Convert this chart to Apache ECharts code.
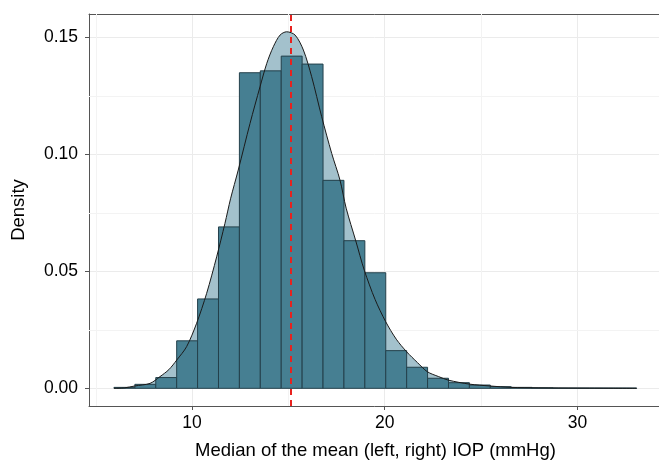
<!DOCTYPE html>
<html>
<head>
<meta charset="utf-8">
<script src="https://cdn.jsdelivr.net/npm/echarts@6.0.0/dist/echarts.min.js"></script>
<style>
  html, body { margin: 0; padding: 0; background: #ffffff; }
  #root { width: 659px; height: 460px; }
</style>
</head>
<body>
<div id="root"></div>
<script>
// histogram: 25 bins starting at 5.95, width 1.085
const binStart = 5.95;
const binWidth = 1.085;
const binDensity = [
  0.0004, 0.0017, 0.0046, 0.0203, 0.0382, 0.069, 0.1349, 0.1357, 0.142, 0.1386,
  0.0889, 0.0631, 0.0494, 0.0161, 0.009, 0.0043, 0.0024, 0.0014, 0.0007, 0.0004,
  0.0002, 0.0001, 0.0001, 0.0001, 0.0001
];

// kernel density curve
const curveX = [
  5.95, 6.5, 7.03, 7.82, 8.34, 8.8, 9.21, 9.72, 10.24, 10.76, 11.28, 11.71, 12.0,
  12.4, 13.01, 13.53, 13.88, 14.22, 14.57, 14.91, 15.35, 15.78, 16.21, 16.73,
  17.25, 17.68, 18.0, 18.5, 18.94, 19.5, 20.05, 20.6, 21.14, 21.7, 22.21, 22.8,
  23.3, 24.39, 25.46, 26.55, 28, 30, 33.07
];
const curveY = [
  0, 0.0002, 0.001, 0.0021, 0.005, 0.008, 0.0121, 0.0178, 0.0278, 0.0406, 0.0562,
  0.0705, 0.081, 0.0933, 0.1132, 0.1289, 0.1389, 0.146, 0.151, 0.1524, 0.151,
  0.1446, 0.1332, 0.1161, 0.1004, 0.089, 0.077, 0.063, 0.0505, 0.038, 0.0285,
  0.021, 0.0156, 0.011, 0.0071, 0.005, 0.0035, 0.0018, 0.001, 0.0004, 0.0002,
  0.0001, 0
];

const medianIOP = 15.13;

const xTicks = [10, 20, 30];
const xMinor = [5, 15, 25];
const yTicks = [0, 0.05, 0.1, 0.15];
const yMinor = [0.025, 0.075, 0.125];

const bars = binDensity.map((d, i) => [binStart + i * binWidth, binStart + (i + 1) * binWidth, d]);
const curve = curveX.map((x, i) => [x, curveY[i]]);
// [value, 0 = vertical line / 1 = horizontal line]
const minorLines = xMinor.map((v) => [v, 0]).concat(yMinor.map((v) => [v, 1]));

const chart = echarts.init(document.getElementById("root"));

const font = "'Liberation Sans', Arial, sans-serif";
const frame = "#555555";

const option = {
  backgroundColor: "#ffffff",
  animation: false,
  grid: {
    left: 89,
    top: 14,
    width: 573,
    height: 392,
    outerBoundsMode: "none",
    containLabel: false,
    show: false
  },
  xAxis: [
    {
      type: "value",
      min: 4.655,
      max: 34.39,
      name: "Median of the mean (left, right) IOP (mmHg)",
      nameLocation: "middle",
      nameGap: 35,
      nameTextStyle: { fontFamily: font, fontSize: 18.5, color: "#000" },
      axisLine: { show: true, onZero: false, lineStyle: { color: frame } },
      axisTick: { show: true, length: 4, customValues: xTicks, lineStyle: { color: frame } },
      axisLabel: { customValues: xTicks, margin: 8, fontFamily: font, fontSize: 17.5, color: "#000" },
      splitLine: { show: true, lineStyle: { color: "#ebebeb", width: 1 } }
    },
    {
      // top frame line only
      type: "value",
      position: "top",
      min: 4.655,
      max: 34.39,
      axisLine: { show: true, onZero: false, lineStyle: { color: frame } },
      axisTick: { show: false },
      axisLabel: { show: false },
      splitLine: { show: false }
    }
  ],
  yAxis: {
    type: "value",
    min: -0.00756,
    max: 0.16,
    name: "Density",
    nameLocation: "middle",
    nameGap: 61,
    nameTextStyle: { fontFamily: font, fontSize: 18.5, color: "#000" },
    axisLine: { show: true, onZero: false, lineStyle: { color: frame } },
    axisTick: { show: true, length: 4, customValues: yTicks, lineStyle: { color: frame } },
    axisLabel: { customValues: yTicks, margin: 11, fontFamily: font, fontSize: 17.5, color: "#000",
      formatter: (v) => v.toFixed(2) },
    splitLine: { show: true, lineStyle: { color: "#ebebeb", width: 1 } }
  },
  series: [
    {
      // minor grid lines
      type: "custom",
      z: 1,
      silent: true,
      data: minorLines,
      renderItem: function (params, api) {
        const cs = params.coordSys;
        const v = api.value(0);
        let shape;
        if (api.value(1) === 0) {
          const px = Math.round(api.coord([v, 0])[0]) + 0.5;
          shape = { x1: px, y1: cs.y, x2: px, y2: cs.y + cs.height };
        } else {
          const py = Math.round(api.coord([10, v])[1]) + 0.5;
          shape = { x1: cs.x, y1: py, x2: cs.x + cs.width, y2: py };
        }
        return { type: "line", shape: shape, style: { stroke: "#f3f3f3", lineWidth: 1 } };
      }
    },
    {
      // density fill
      type: "line",
      data: curve,
      z: 2,
      smooth: 0.3,
      showSymbol: false,
      silent: true,
      lineStyle: { width: 0 },
      areaStyle: { color: "#a3c1cc", opacity: 1 }
    },
    {
      type: "custom",
      z: 3,
      data: bars,
      renderItem: function (params, api) {
        const p0 = api.coord([api.value(0), api.value(2)]);
        const p1 = api.coord([api.value(1), 0]);
        return {
          type: "rect",
          shape: { x: p0[0], y: p0[1], width: p1[0] - p0[0], height: p1[1] - p0[1] },
          style: { fill: "#467f92", stroke: "#24404b", lineWidth: 1 }
        };
      }
    },
    {
      // density outline
      type: "line",
      data: curve,
      z: 4,
      smooth: 0.3,
      showSymbol: false,
      silent: true,
      lineStyle: { color: "#1a1a1a", width: 1 }
    },
    {
      // median line
      type: "line",
      data: [],
      z: 5,
      markLine: {
        silent: true,
        symbol: "none",
        label: { show: false },
        lineStyle: { color: "#e8221f", width: 2, type: [6, 5] },
        data: [{ xAxis: medianIOP }]
      }
    }
  ]
};

chart.setOption(option);
</script>
</body>
</html>
